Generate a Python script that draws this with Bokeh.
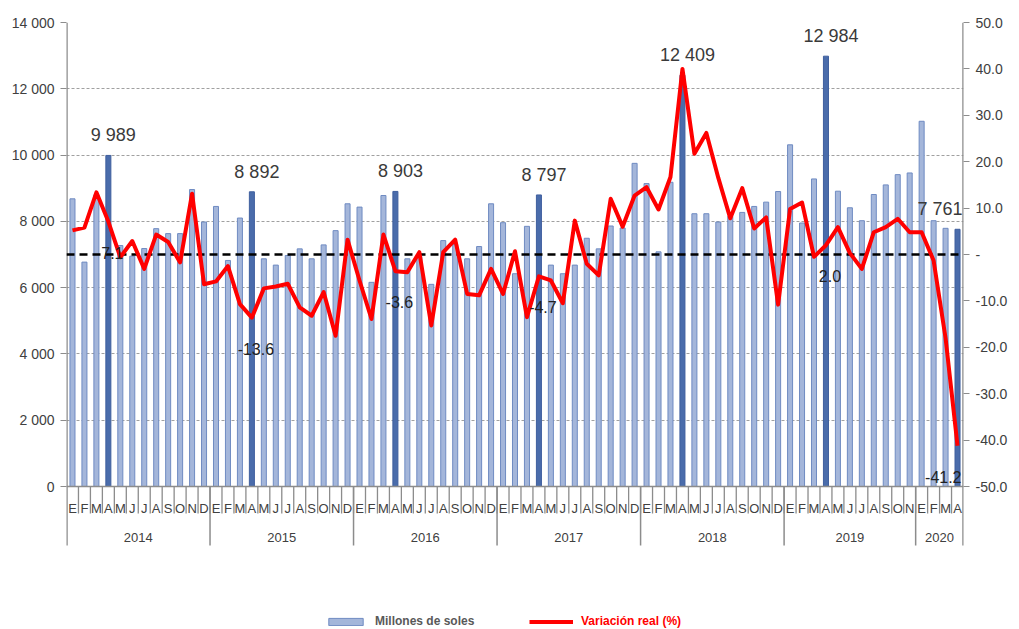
import numpy as np
from bokeh.plotting import figure
from bokeh.models import (Range1d, LinearAxis, FixedTicker, ColumnDataSource,
                          Legend, LegendItem, Grid)
from bokeh.core.properties import value
from bokeh.embed import file_html
from bokeh.resources import INLINE

# ---------------- data ----------------
years = ["2014", "2015", "2016", "2017", "2018", "2019", "2020"]
year_months = [
    ["E", "F", "M", "A", "M", "J", "J", "A", "S", "O", "N", "D"],
    ["E", "F", "M", "A", "M", "J", "J", "A", "S", "O", "N", "D"],
    ["E", "F", "M", "A", "M", "J", "J", "A", "S", "O", "N", "D"],
    ["E", "F", "M", "A", "M", "J", "J", "A", "S", "O", "N", "D"],
    ["E", "F", "M", "A", "M", "J", "J", "A", "S", "O", "N", "D"],
    ["E", "F", "M", "A", "M", "J", "J", "A", "S", "O", "N"],
    ["E", "F", "M", "A"],
]

# Millones de soles
revenue = [
    8680, 6770, 8800, 9989, 7270, 6950, 7180, 7780, 7630, 7630, 8960, 7980,   # 2014
    8450, 6820, 8100, 8892, 6870, 6680, 6970, 7170, 6870, 7290, 7720, 8530,   # 2015
    8430, 6160, 8780, 8903, 6870, 6940, 6100, 7420, 7300, 6870, 7240, 8530,   # 2016
    7960, 6420, 7850, 8797, 6680, 6420, 6680, 7490, 7170, 7860, 7800, 9750,   # 2017
    9140, 7080, 9180, 12409, 8230, 8230, 7980, 8150, 8270, 8450, 8580, 8900,  # 2018
    10310, 7950, 9280, 12984, 8910, 8410, 8020, 8810, 9100, 9410, 9460,       # 2019
    11020, 8020, 7790, 7761,                                                 # 2020
]

# Variación real (%)
variation = [
    5.2, 5.8, 13.4, 7.1, -0.6, 2.9, -3.1, 4.3, 2.7, -1.7, 13.1, -6.4,        # 2014
    -5.8, -2.5, -10.7, -13.6, -7.3, -6.9, -6.3, -11.4, -13.2, -8.1, -17.5, 3.2,  # 2015
    -5.6, -13.9, 4.3, -3.6, -3.8, 0.5, -15.3, 0.5, 3.2, -8.5, -8.8, -3.1,    # 2016
    -8.5, 0.7, -13.5, -4.7, -5.6, -10.5, 7.3, -2.0, -4.5, 12.0, 6.0, 12.7,   # 2017
    14.5, 9.7, 16.7, 40.0, 21.7, 26.2, 16.5, 7.8, 14.3, 5.6, 8.0, -10.8,     # 2018
    9.8, 11.2, -0.5, 2.0, 5.9, 0.3, -3.1, 4.8, 5.9, 7.7, 4.8,                # 2019
    4.8, -1.3, -18.0, -41.2,                                                 # 2020
]

# labelled points: (year, position of the month inside that year)
value_labels = [("2014", 3), ("2015", 3), ("2016", 3), ("2017", 3),
                ("2018", 3), ("2019", 3), ("2020", 3)]
variation_labels = [("2014", 3), ("2015", 3), ("2016", 3), ("2017", 3),
                    ("2019", 3), ("2020", 3)]
highlight_month = "A"   # April bars drawn in dark blue

left_ticks = [0, 2000, 4000, 6000, 8000, 10000, 12000, 14000]
right_ticks = [-50, -40, -30, -20, -10, 0, 10, 20, 30, 40, 50]

# ---------------- derived ----------------
months_in_year = [len(m) for m in year_months]
n = len(revenue)
letters = [l for m in year_months for l in m]
month_pos = [k for m in year_months for k in range(len(m))]
year_of = [y for y, m in zip(years, year_months) for _ in m]
xc = [i + 0.5 for i in range(n)]
pos = {(year_of[i], month_pos[i]): i for i in range(n)}
hi_idx = [pos[k] for k in value_labels]
var_idx = [pos[k] for k in variation_labels]
hi = [(month_pos[i] == 3 and letters[i] == highlight_month) for i in range(n)]

FRAME_W, FRAME_H = 897, 606
PX_SPAN = 464                 # pixels between 0 and the top tick
L_TOP, R_TOP, R_BOT = left_ticks[-1], right_ticks[-1], right_ticks[0]
px2l = L_TOP / PX_SPAN
px2r = (R_TOP - R_BOT) / PX_SPAN

FONT = value("Liberation Sans")
GRAY = "#8c8c8c"
TXT = "#404040"

p = figure(frame_width=FRAME_W, frame_height=FRAME_H,
           x_range=Range1d(0, n),
           y_range=Range1d(L_TOP - FRAME_H * px2l, L_TOP),
           x_axis_location=None, y_axis_location=None,
           output_backend="svg", toolbar_location=None,
           min_border_left=66, min_border_right=44, min_border_top=22,
           min_border_bottom=0)
p.extra_y_ranges = {"pct": Range1d(R_TOP - FRAME_H * px2r, R_TOP)}
p.outline_line_color = None
p.background_fill_color = "white"
for g in p.grid:
    g.visible = False

grid = Grid(dimension=1, ticker=FixedTicker(ticks=left_ticks[1:]),
            grid_line_color="#a0a0a0", grid_line_dash="3 2", grid_line_width=1.2)
p.add_layout(grid)

# axes
fmt_left = {t: (f"{t:,}".replace(",", " ")) for t in left_ticks}
lax = LinearAxis(ticker=FixedTicker(ticks=left_ticks), major_label_overrides=fmt_left,
                 axis_line_color=None, major_tick_line_color=GRAY, major_tick_out=6,
                 major_tick_in=0, minor_tick_line_color=None,
                 major_label_text_font="Liberation Sans", major_label_text_font_size="14px",
                 major_label_text_color=TXT, major_label_standoff=6)
p.add_layout(lax, "left")

fmt_right = {t: ("-" if t == 0 else f"{t:.1f}") for t in right_ticks}
rax = LinearAxis(y_range_name="pct", ticker=FixedTicker(ticks=right_ticks),
                 major_label_overrides=fmt_right,
                 axis_line_color=None, major_tick_line_color=GRAY, major_tick_out=6,
                 major_tick_in=0, minor_tick_line_color=None,
                 major_label_text_font="Liberation Sans", major_label_text_font_size="14px",
                 major_label_text_color=TXT, major_label_standoff=6)
p.add_layout(rax, "right")

# bars
src = ColumnDataSource(dict(
    x=xc, top=revenue,
    fill=["#4a6cab" if h else "#a4b6da" for h in hi],
    line=["#3f5f9e" if h else "#6f8bc2" for h in hi],
))
bars = p.vbar(x="x", top="top", bottom=0, width=0.42, source=src,
              fill_color="fill", line_color="line", line_width=1)

# axis lines and category separators
bounds_y = np.cumsum([0] + months_in_year)
p.segment(x0=[0, n], x1=[0, n], y0=[-59 * px2l] * 2, y1=[L_TOP] * 2,
          line_color=GRAY, line_width=2.5)
p.segment(x0=[0], x1=[n], y0=[0], y1=[0], line_color=GRAY, line_width=1.5)
mb = list(range(1, n))
p.segment(x0=mb, x1=mb, y0=[0] * len(mb), y1=[-27 * px2l] * len(mb),
          line_color=GRAY, line_width=1.3)
yb = [int(b) for b in bounds_y[1:-1]]
p.segment(x0=yb, x1=yb, y0=[0] * len(yb), y1=[-59 * px2l] * len(yb),
          line_color=GRAY, line_width=1.5)

p.text(x=xc, y=[0] * n, text=letters, y_offset=22, text_align="center",
       text_baseline="middle", text_font=FONT, text_font_size="13px", text_color=TXT)
year_centers = [(bounds_y[i] + bounds_y[i + 1]) / 2 for i in range(len(years))]
p.text(x=year_centers, y=[0] * len(years), text=years, y_offset=51, text_align="center",
       text_baseline="middle", text_font=FONT, text_font_size="13px", text_color=TXT)

# zero line of the % axis
p.line(x=[0, n], y=[0, 0], y_range_name="pct", line_color="black",
       line_width=2.5, line_dash="8 5")

# variation line
red = p.line(x=xc, y=variation, y_range_name="pct", line_color="#ff0000",
             line_width=4, line_join="round")

# labels
mid_idx = hi_idx[:-1]
last = hi_idx[-1]
p.text(x=[xc[i] for i in mid_idx], y=[revenue[i] for i in mid_idx],
       text=[f"{revenue[i]:,}".replace(",", " ") for i in mid_idx],
       x_offset=5, y_offset=-20, text_align="center", text_baseline="middle",
       text_font=FONT, text_font_size="18px", text_color="#3a3a3a")
p.text(x=[xc[last]], y=[revenue[last]], text=[f"{revenue[last]:,}".replace(",", " ")],
       x_offset=5, y_offset=-20, text_align="right", text_baseline="middle",
       text_font=FONT, text_font_size="18px", text_color="#3a3a3a")
vmid = var_idx[:-1]
vlast = var_idx[-1]
p.text(x=[xc[i] for i in vmid], y=[variation[i] for i in vmid], y_range_name="pct",
       text=[f"{variation[i]:.1f}" for i in vmid],
       x_offset=4, y_offset=31, text_align="center", text_baseline="middle",
       text_font=FONT, text_font_size="16px", text_color="#222222")
p.text(x=[xc[vlast]], y=[variation[vlast]], y_range_name="pct",
       text=[f"{variation[vlast]:.1f}"],
       x_offset=4, y_offset=31, text_align="right", text_baseline="middle",
       text_font=FONT, text_font_size="16px", text_color="#222222")

# legend
common = dict(orientation="horizontal", border_line_color=None,
              background_fill_alpha=0, padding=2, margin=0, label_standoff=8,
              label_text_font="Liberation Sans", label_text_font_size="12px",
              label_text_font_style="bold", glyph_height=9)
leg1 = Legend(items=[LegendItem(label="Millones de soles", renderers=[bars], index=0)],
              location=(258, 0), glyph_width=43, label_text_color="#595959", **common)
leg2 = Legend(items=[LegendItem(label="Variación real (%)", renderers=[red])],
              location=(463, 0), glyph_width=44, label_text_color="#ff0000", **common)
p.add_layout(leg1)
p.add_layout(leg2)

open("out.html", "w").write(file_html(p, INLINE))
